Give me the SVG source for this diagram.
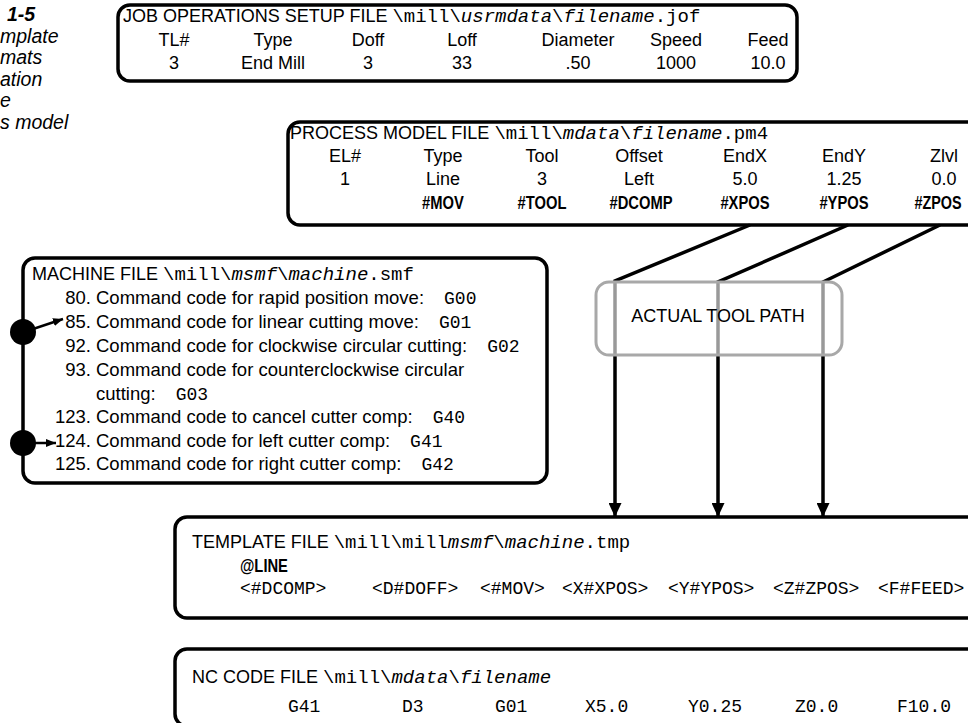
<svg xmlns="http://www.w3.org/2000/svg" width="968" height="723" viewBox="0 0 968 723">
  <defs>
    <style>
      .t { font-family: "Liberation Sans", Arial, Helvetica, sans-serif; font-size: 18px; fill: #000; }
      .t2 { font-size: 18.5px; }
      .m { font-family: "Liberation Mono", "Courier New", monospace; font-size: 18px; }
      .mt { font-family: "Liberation Mono", "Courier New", monospace; font-size: 19px; }
      .i { font-style: italic; }
      .b { font-weight: bold; }
      .c { text-anchor: middle; }
      .e { text-anchor: end; }
      .cap { font-family: "Liberation Sans", Arial, sans-serif; font-size: 19.5px; font-style: italic; }
      .box { fill: #fff; stroke: #000; stroke-width: 3.5; }
      .conn { fill: none; stroke: #000; stroke-width: 3.5; stroke-linejoin: miter; }
      .thin { fill: none; stroke: #000; stroke-width: 2.5; }
      .path-box { fill: #fff; fill-opacity: 0.6; stroke: #a8a8a8; stroke-width: 3; }
    </style>
    <marker id="arrow" viewBox="0 0 14 13" refX="14" refY="6.5" markerWidth="14" markerHeight="13" markerUnits="userSpaceOnUse" orient="auto">
      <path d="M0,0 L14,6.5 L0,13 z" fill="#000"/>
    </marker>
    <marker id="arrow-sm" viewBox="0 0 10 8" refX="10" refY="4" markerWidth="10" markerHeight="8" markerUnits="userSpaceOnUse" orient="auto">
      <path d="M0,0 L10,4 L0,8 z" fill="#000"/>
    </marker>
  </defs>

  <rect width="968" height="723" fill="#fff"/>

  <!-- figure caption, running off the left edge -->
  <g id="caption" class="cap">
    <text x="7" y="21" class="b">1-5</text>
    <text x="0" y="42.5">mplate</text>
    <text x="0" y="64">mats</text>
    <text x="0" y="85.5">ation</text>
    <text x="0" y="107">e</text>
    <text x="0" y="128.5">s model</text>
  </g>

  <!-- job operations setup file -->
  <g id="job-file">
    <rect class="box" x="118" y="5" width="679" height="76" rx="12"/>
    <text class="t" x="123" y="22">JOB OPERATIONS SETUP FILE <tspan class="mt">\mill\</tspan><tspan class="mt i">usrmdata</tspan><tspan class="mt">\</tspan><tspan class="mt i">filename</tspan><tspan class="mt">.jof</tspan></text>
    <g class="t c">
      <text x="174" y="46">TL#</text>
      <text x="273" y="46">Type</text>
      <text x="368" y="46">Doff</text>
      <text x="462" y="46">Loff</text>
      <text x="578" y="46">Diameter</text>
      <text x="676" y="46">Speed</text>
      <text x="768" y="46">Feed</text>
      <text x="174" y="69">3</text>
      <text x="273" y="69">End Mill</text>
      <text x="368" y="69">3</text>
      <text x="462" y="69">33</text>
      <text x="578" y="69">.50</text>
      <text x="676" y="69">1000</text>
      <text x="768" y="69">10.0</text>
    </g>
  </g>

  <!-- process model file -->
  <g id="process-model-file">
    <rect class="box" x="288" y="122" width="720" height="103" rx="12"/>
    <text class="t" x="290" y="139">PROCESS MODEL FILE <tspan class="mt">\mill\</tspan><tspan class="mt i">mdata</tspan><tspan class="mt">\</tspan><tspan class="mt i">filename</tspan><tspan class="mt">.pm4</tspan></text>
    <g class="t c">
      <text x="345" y="162">EL#</text>
      <text x="443" y="162">Type</text>
      <text x="542" y="162">Tool</text>
      <text x="639" y="162">Offset</text>
      <text x="745" y="162">EndX</text>
      <text x="844" y="162">EndY</text>
      <text x="944" y="162">Zlvl</text>
      <text x="345" y="185">1</text>
      <text x="443" y="185">Line</text>
      <text x="542" y="185">3</text>
      <text x="639" y="185">Left</text>
      <text x="745" y="185">5.0</text>
      <text x="844" y="185">1.25</text>
      <text x="944" y="185">0.0</text>
    </g>
    <!-- condensed bold field tags -->
    <g class="t c b">
      <text transform="translate(443,209) scale(0.82,1)">#MOV</text>
      <text transform="translate(542,209) scale(0.82,1)">#TOOL</text>
      <text transform="translate(641,209) scale(0.82,1)">#DCOMP</text>
      <text transform="translate(745,209) scale(0.82,1)">#XPOS</text>
      <text transform="translate(844,209) scale(0.82,1)">#YPOS</text>
      <text transform="translate(938,209) scale(0.8,1)">#ZPOS</text>
    </g>
  </g>

  <!-- machine file -->
  <g id="machine-file">
    <rect class="box" x="23" y="258" width="524" height="225" rx="12"/>
    <text class="t" x="32" y="280">MACHINE FILE <tspan class="mt">\mill\</tspan><tspan class="mt i">msmf</tspan><tspan class="mt">\</tspan><tspan class="mt i">machine</tspan><tspan class="mt">.smf</tspan></text>
    <g class="t t2 e">
      <text x="91" y="304">80.</text>
      <text x="91" y="328">85.</text>
      <text x="91" y="352">92.</text>
      <text x="91" y="376">93.</text>
      <text x="91" y="423">123.</text>
      <text x="91" y="447">124.</text>
      <text x="91" y="470">125.</text>
    </g>
    <g class="t t2">
      <text x="96" y="304">Command code for rapid position move:<tspan class="m" dx="20">G00</tspan></text>
      <text x="96" y="328">Command code for linear cutting move:<tspan class="m" dx="20">G01</tspan></text>
      <text x="96" y="352">Command code for clockwise circular cutting:<tspan class="m" dx="20">G02</tspan></text>
      <text x="96" y="376">Command code for counterclockwise circular</text>
      <text x="96" y="400">cutting:<tspan class="m" dx="20">G03</tspan></text>
      <text x="96" y="423">Command code to cancel cutter comp:<tspan class="m" dx="20">G40</tspan></text>
      <text x="96" y="447">Command code for left cutter comp:<tspan class="m" dx="20">G41</tspan></text>
      <text x="96" y="470">Command code for right cutter comp:<tspan class="m" dx="20">G42</tspan></text>
    </g>
    <line class="thin" x1="30" y1="330" x2="63" y2="319" marker-end="url(#arrow-sm)"/>
    <line class="thin" x1="30" y1="443" x2="56" y2="443" marker-end="url(#arrow-sm)"/>
    <circle cx="23" cy="332" r="13" fill="#000"/>
    <circle cx="23" cy="443" r="13" fill="#000"/>
  </g>

  <!-- template file -->
  <g id="template-file">
    <rect class="box" x="175" y="517" width="820" height="101" rx="12"/>
    <text class="t" x="192" y="548">TEMPLATE FILE <tspan class="mt">\mill\mill</tspan><tspan class="mt i">msmf</tspan><tspan class="mt">\</tspan><tspan class="mt i">machine</tspan><tspan class="mt">.tmp</tspan></text>
    <text class="t b" transform="translate(240,572) scale(0.82,1)">@LINE</text>
    <g class="m">
      <text x="240" y="594">&lt;#DCOMP&gt;</text>
      <text x="372" y="594">&lt;D#DOFF&gt;</text>
      <text x="480" y="594">&lt;#MOV&gt;</text>
      <text x="562" y="594">&lt;X#XPOS&gt;</text>
      <text x="668" y="594">&lt;Y#YPOS&gt;</text>
      <text x="773" y="594">&lt;Z#ZPOS&gt;</text>
      <text x="878" y="594">&lt;F#FEED&gt;</text>
    </g>
  </g>

  <!-- nc code file -->
  <g id="nc-code-file">
    <rect class="box" x="175" y="649" width="820" height="77" rx="12"/>
    <text class="t" x="192" y="683">NC CODE FILE <tspan class="mt">\mill\</tspan><tspan class="mt i">mdata</tspan><tspan class="mt">\</tspan><tspan class="mt i">filename</tspan></text>
    <g class="m">
      <text x="288" y="712">G41</text>
      <text x="402" y="712">D3</text>
      <text x="495" y="712">G01</text>
      <text x="585" y="712">X5.0</text>
      <text x="688" y="712">Y0.25</text>
      <text x="795" y="712">Z0.0</text>
      <text x="897" y="712">F10.0</text>
    </g>
  </g>

  <!-- connectors from the process model fields down to the template -->
  <g id="connectors">
    <path class="conn" d="M750,225 L615,281 L615,517" marker-end="url(#arrow)"/>
    <path class="conn" d="M848,225 L718,282 L718,517" marker-end="url(#arrow)"/>
    <path class="conn" d="M940,225 L823,282 L823,517" marker-end="url(#arrow)"/>
  </g>

  <!-- translucent tool path panel laid over the connectors -->
  <g id="actual-tool-path">
    <rect class="path-box" x="596" y="282" width="246" height="73" rx="13"/>
    <text class="t c" x="718" y="322">ACTUAL TOOL PATH</text>
  </g>
</svg>
